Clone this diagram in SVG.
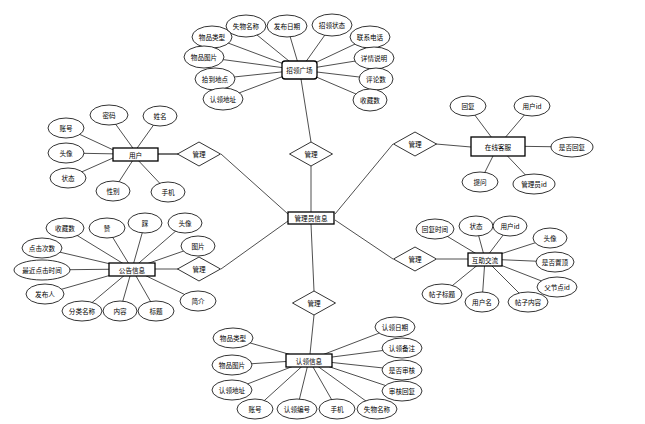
<svg xmlns="http://www.w3.org/2000/svg" width="645" height="424" viewBox="0 0 645 424">
<style>
.bg{fill:#fff}
.l{stroke:#222;stroke-width:0.8;fill:none}
.a{fill:#fff;stroke:#000;stroke-width:0.8}
.e{fill:#fff;stroke:#000;stroke-width:1.3}
.d{fill:#fff;stroke:#000;stroke-width:0.8}
.t{font-family:"Noto Sans CJK SC","Noto Sans",sans-serif;font-size:6.6px;text-anchor:middle;dominant-baseline:central;fill:#000}
</style>
<rect class="bg" x="0" y="0" width="645" height="424"/>
<g id="connectors">
<path class="l" d="M246,26L300,70M287,26L300,70M332,25L300,70M212,37L300,70M370,37L300,70M204,57L300,70M374,58L300,70M215,79L300,70M376,79L300,70M223,99L300,70M370,100L300,70"/>
<path class="l" d="M301,79L311,142"/>
<path class="l" d="M109,115L135,151M160,116L135,151M66,128L122,154M66,153L122,154M68,178L122,154M113,191L135,157M168,192L135,157"/>
<path stroke="#666" stroke-width="1.8" fill="none" d="M158,154L178,154"/>
<path class="l" d="M468,106L498,146M532,106L498,146M572,147L498,146M480,182L498,146M534,184L498,146"/>
<path class="l" d="M436,144L471,147"/>
<path class="l" d="M65,228L132,269M107,228L132,269M145,223L132,269M185,223L132,269M198,246L132,269M42,248L132,269M42,270L132,269M45,294L132,269M82,311L132,269M120,311L132,269M156,311L132,269M198,301L132,269"/>
<path class="l" d="M155,269L178,269"/>
<path class="l" d="M435,229L485,259M476,226L485,259M510,226L485,259M550,238L485,259M555,262L485,259M557,287L485,259M528,302L485,259M482,302L485,259M442,294L485,259"/>
<path class="l" d="M437,259L468,259"/>
<path class="l" d="M233,338L309,360M232,365L309,360M232,390L309,360M255,409L309,360M297,409L309,360M337,409L309,360M377,409L309,360M395,327L309,360M402,348L309,360M402,370L309,360M402,391L309,360"/>
<path class="l" d="M314,315L310,354"/>
<path class="l" d="M311,166L311,212M221,154L288,214M221,269L288,221M393,144L335,214M393,259L335,220M314,291L311,224"/>
</g>

<g id="admin"><rect class="e" x="288" y="212" width="46" height="12" stroke-width="1.5"/><text class="t" x="311" y="218">管理员信息</text></g>

<g id="rel-user"><path class="d" d="M177.5,154L199,142L220.5,154L199,166Z"/><text class="t" x="199" y="154">管理</text></g>
<g id="rel-plaza"><path class="d" d="M289.5,154L311,142L332.5,154L311,166Z"/><text class="t" x="311" y="154">管理</text></g>
<g id="rel-service"><path class="d" d="M393.5,144L415,132L436.5,144L415,156Z"/><text class="t" x="415" y="144">管理</text></g>
<g id="rel-notice"><path class="d" d="M177.5,269L199,257L220.5,269L199,281Z"/><text class="t" x="199" y="269">管理</text></g>
<g id="rel-forum"><path class="d" d="M393.5,259L415,247L436.5,259L415,271Z"/><text class="t" x="415" y="259">管理</text></g>
<g id="rel-claim"><path class="d" d="M292.5,303L314,291L335.5,303L314,315Z"/><text class="t" x="314" y="303">管理</text></g>

<g id="plaza"><rect class="e" x="282" y="61" width="35" height="18" rx="3"/><text class="t" x="299.5" y="70">招领广场</text></g>
<g id="p1"><ellipse class="a" cx="246" cy="26" rx="20" ry="11"/><text class="t" x="246" y="26">失物名称</text></g>
<g id="p2"><ellipse class="a" cx="287" cy="26" rx="20" ry="11"/><text class="t" x="287" y="26">发布日期</text></g>
<g id="p3"><ellipse class="a" cx="332" cy="25" rx="20" ry="11"/><text class="t" x="332" y="25">招领状态</text></g>
<g id="p4"><ellipse class="a" cx="212" cy="37" rx="20" ry="11"/><text class="t" x="212" y="37">物品类型</text></g>
<g id="p5"><ellipse class="a" cx="370" cy="37" rx="20" ry="11"/><text class="t" x="370" y="37">联系电话</text></g>
<g id="p6"><ellipse class="a" cx="204" cy="57" rx="20" ry="11"/><text class="t" x="204" y="57">物品图片</text></g>
<g id="p7"><ellipse class="a" cx="374" cy="58" rx="20" ry="11"/><text class="t" x="374" y="58">详情说明</text></g>
<g id="p8"><ellipse class="a" cx="215" cy="79" rx="20" ry="11"/><text class="t" x="215" y="79">拾到地点</text></g>
<g id="p9"><ellipse class="a" cx="376" cy="79" rx="17" ry="11"/><text class="t" x="376" y="79">评论数</text></g>
<g id="p10"><ellipse class="a" cx="223" cy="99" rx="20" ry="11"/><text class="t" x="223" y="99">认领地址</text></g>
<g id="p11"><ellipse class="a" cx="370" cy="100" rx="17" ry="11"/><text class="t" x="370" y="100">收藏数</text></g>

<g id="user"><rect class="e" x="113" y="148" width="45" height="13"/><text class="t" x="135.5" y="154.5">用户</text></g>
<g id="u1"><ellipse class="a" cx="109" cy="115" rx="19" ry="10"/><text class="t" x="109" y="115">密码</text></g>
<g id="u2"><ellipse class="a" cx="160" cy="116" rx="17" ry="10"/><text class="t" x="160" y="116">姓名</text></g>
<g id="u3"><ellipse class="a" cx="66" cy="128" rx="18" ry="10"/><text class="t" x="66" y="128">账号</text></g>
<g id="u4"><ellipse class="a" cx="66" cy="153" rx="18" ry="10"/><text class="t" x="66" y="153">头像</text></g>
<g id="u5"><ellipse class="a" cx="68" cy="178" rx="18" ry="10"/><text class="t" x="68" y="178">状态</text></g>
<g id="u6"><ellipse class="a" cx="113" cy="191" rx="17" ry="10"/><text class="t" x="113" y="191">性别</text></g>
<g id="u7"><ellipse class="a" cx="168" cy="192" rx="17" ry="10"/><text class="t" x="168" y="192">手机</text></g>

<g id="service"><rect class="e" x="471" y="137" width="54" height="19"/><text class="t" x="498" y="146.5">在线客服</text></g>
<g id="s1"><ellipse class="a" cx="468" cy="106" rx="18" ry="10"/><text class="t" x="468" y="106">回复</text></g>
<g id="s2"><ellipse class="a" cx="532" cy="106" rx="18" ry="10"/><text class="t" x="532" y="106">用户id</text></g>
<g id="s3"><ellipse class="a" cx="572" cy="147" rx="21" ry="10"/><text class="t" x="572" y="147">是否回复</text></g>
<g id="s4"><ellipse class="a" cx="480" cy="182" rx="18" ry="10"/><text class="t" x="480" y="182">提问</text></g>
<g id="s5"><ellipse class="a" cx="534" cy="184" rx="21" ry="10"/><text class="t" x="534" y="184">管理员id</text></g>

<g id="notice"><rect class="e" x="109" y="263" width="46" height="13"/><text class="t" x="132" y="269.5">公告信息</text></g>
<g id="n1"><ellipse class="a" cx="65" cy="228" rx="19" ry="10"/><text class="t" x="65" y="228">收藏数</text></g>
<g id="n2"><ellipse class="a" cx="107" cy="228" rx="18" ry="10"/><text class="t" x="107" y="228">赞</text></g>
<g id="n3"><ellipse class="a" cx="145" cy="223" rx="17" ry="10"/><text class="t" x="145" y="223">踩</text></g>
<g id="n4"><ellipse class="a" cx="185" cy="223" rx="17" ry="10"/><text class="t" x="185" y="223">头像</text></g>
<g id="n5"><ellipse class="a" cx="198" cy="246" rx="17" ry="10"/><text class="t" x="198" y="246">图片</text></g>
<g id="n6"><ellipse class="a" cx="42" cy="248" rx="20" ry="10"/><text class="t" x="42" y="248">点击次数</text></g>
<g id="n7"><ellipse class="a" cx="42" cy="270" rx="28" ry="10"/><text class="t" x="42" y="270">最近点击时间</text></g>
<g id="n8"><ellipse class="a" cx="45" cy="294" rx="19" ry="10"/><text class="t" x="45" y="294">发布人</text></g>
<g id="n9"><ellipse class="a" cx="82" cy="311" rx="20" ry="10"/><text class="t" x="82" y="311">分类名称</text></g>
<g id="n10"><ellipse class="a" cx="120" cy="311" rx="17" ry="10"/><text class="t" x="120" y="311">内容</text></g>
<g id="n11"><ellipse class="a" cx="156" cy="311" rx="18" ry="10"/><text class="t" x="156" y="311">标题</text></g>
<g id="n12"><ellipse class="a" cx="198" cy="301" rx="18" ry="10"/><text class="t" x="198" y="301">简介</text></g>

<g id="forum"><rect class="e" x="468" y="253" width="34" height="13"/><text class="t" x="485" y="259.5">互助交流</text></g>
<g id="f1"><ellipse class="a" cx="435" cy="229" rx="19" ry="10"/><text class="t" x="435" y="229">回复时间</text></g>
<g id="f2"><ellipse class="a" cx="476" cy="226" rx="17" ry="10"/><text class="t" x="476" y="226">状态</text></g>
<g id="f3"><ellipse class="a" cx="510" cy="226" rx="17" ry="10"/><text class="t" x="510" y="226">用户id</text></g>
<g id="f4"><ellipse class="a" cx="550" cy="238" rx="17" ry="10"/><text class="t" x="550" y="238">头像</text></g>
<g id="f5"><ellipse class="a" cx="555" cy="262" rx="19" ry="10"/><text class="t" x="555" y="262">是否置顶</text></g>
<g id="f6"><ellipse class="a" cx="557" cy="287" rx="20" ry="10"/><text class="t" x="557" y="287">父节点id</text></g>
<g id="f7"><ellipse class="a" cx="528" cy="302" rx="20" ry="10"/><text class="t" x="528" y="302">帖子内容</text></g>
<g id="f8"><ellipse class="a" cx="482" cy="302" rx="17" ry="10"/><text class="t" x="482" y="302">用户名</text></g>
<g id="f9"><ellipse class="a" cx="442" cy="294" rx="20" ry="10"/><text class="t" x="442" y="294">帖子标题</text></g>

<g id="claim"><rect class="e" x="286" y="354" width="46" height="13"/><text class="t" x="309" y="360.5">认领信息</text></g>
<g id="c1"><ellipse class="a" cx="233" cy="338" rx="20" ry="10"/><text class="t" x="233" y="338">物品类型</text></g>
<g id="c2"><ellipse class="a" cx="232" cy="365" rx="20" ry="10"/><text class="t" x="232" y="365">物品图片</text></g>
<g id="c3"><ellipse class="a" cx="232" cy="390" rx="20" ry="10"/><text class="t" x="232" y="390">认领地址</text></g>
<g id="c4"><ellipse class="a" cx="255" cy="409" rx="18" ry="10"/><text class="t" x="255" y="409">账号</text></g>
<g id="c5"><ellipse class="a" cx="297" cy="409" rx="20" ry="10"/><text class="t" x="297" y="409">认领编号</text></g>
<g id="c6"><ellipse class="a" cx="337" cy="409" rx="18" ry="10"/><text class="t" x="337" y="409">手机</text></g>
<g id="c7"><ellipse class="a" cx="377" cy="409" rx="20" ry="10"/><text class="t" x="377" y="409">失物名称</text></g>
<g id="c8"><ellipse class="a" cx="395" cy="327" rx="20" ry="10"/><text class="t" x="395" y="327">认领日期</text></g>
<g id="c9"><ellipse class="a" cx="402" cy="348" rx="20" ry="10"/><text class="t" x="402" y="348">认领备注</text></g>
<g id="c10"><ellipse class="a" cx="402" cy="370" rx="20" ry="10"/><text class="t" x="402" y="370">是否审核</text></g>
<g id="c11"><ellipse class="a" cx="402" cy="391" rx="20" ry="10"/><text class="t" x="402" y="391">审核回复</text></g>
</svg>
